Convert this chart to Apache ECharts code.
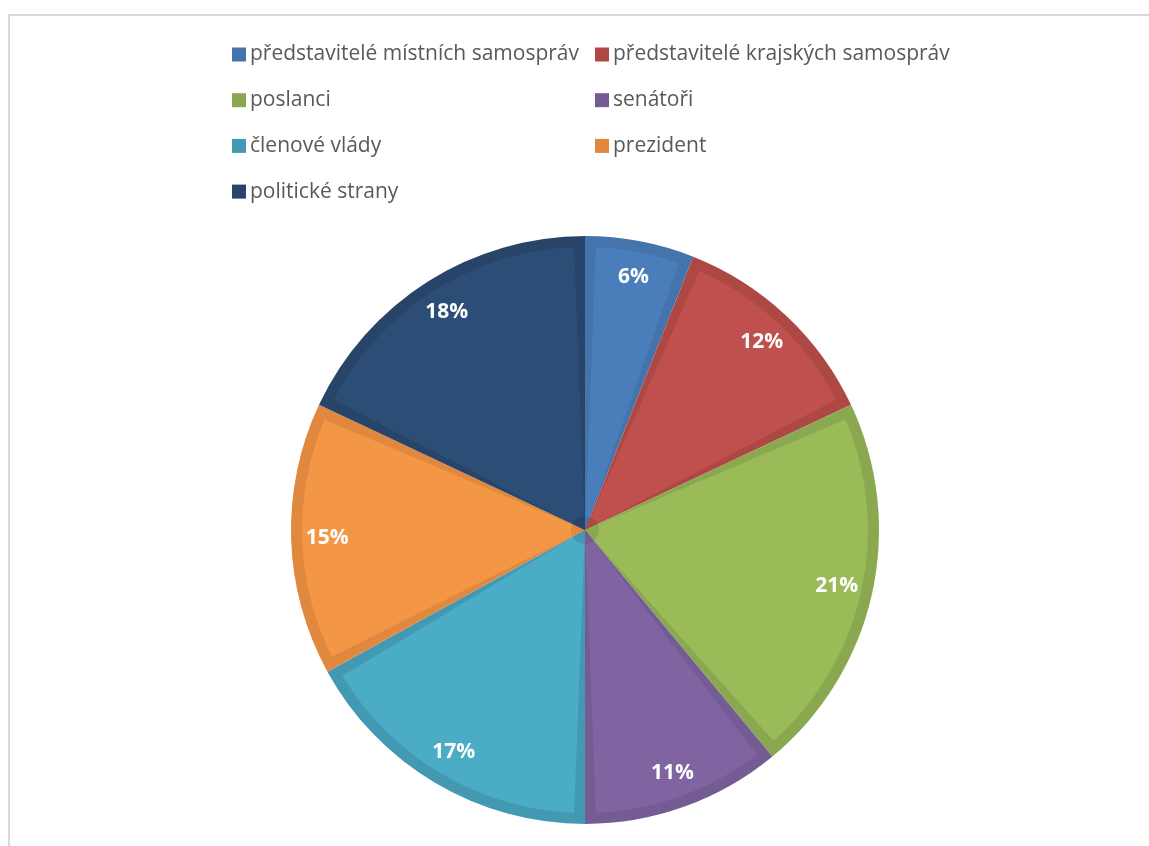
<!DOCTYPE html>
<html>
<head>
<meta charset="utf-8">
<script src="https://cdn.jsdelivr.net/npm/echarts@6/dist/echarts.min.js"></script>
<style>
  html, body { margin: 0; padding: 0; background: #ffffff; }
  #frame { position: absolute; left: 8px; top: 14px; width: 1160px; height: 860px;
           border-left: 2px solid #dadada; border-top: 2px solid #dadada; box-sizing: border-box; }
  #chart { position: absolute; left: 0; top: 0; width: 1149px; height: 846px; }
</style>
</head>
<body>
<div id="frame"></div>
<div id="chart"></div>
<script>
// ---- data ----
const categories = [
  'představitelé místních samospráv',
  'představitelé krajských samospráv',
  'poslanci',
  'senátoři',
  'členové vlády',
  'prezident',
  'politické strany'
];
const values = [6, 12, 21, 11, 17, 15, 18];
const fillColors = ['#4a7ebb', '#c0504d', '#9bbb59', '#8064a2', '#4bacc6', '#f39645', '#2c4d75'];
const edgeColors = ['#4574ac', '#ad4845', '#8aa84f', '#755b94', '#4399b2', '#df883e', '#284569'];
const legendLeftCol = [0, 2, 4, 6];
const legendRightCol = [1, 3, 5];

// ---- chart ----
const chart = echarts.init(document.getElementById('chart'), null, { renderer: 'canvas' });

function dataWith(colors) {
  return categories.map((name, i) => ({
    name: name,
    value: values[i],
    itemStyle: { color: colors[i] }
  }));
}

function legendData(idxs) {
  return idxs.map(i => ({ name: categories[i], itemStyle: { color: edgeColors[i] } }));
}

const legendCommon = {
  orient: 'vertical',
  top: 39,
  itemWidth: 14,
  itemHeight: 14,
  itemGap: 24.7,
  icon: 'rect',
  selectedMode: false,
  textStyle: { fontFamily: 'Open Sans', fontSize: 21, color: '#595959', lineHeight: 20, padding: [0, 0, 0, -1] }
};

const center = [585, 530];

chart.setOption({
  animation: false,
  legend: [
    Object.assign({ left: 227, data: legendData(legendLeftCol) }, legendCommon),
    Object.assign({ left: 590, data: legendData(legendRightCol) }, legendCommon)
  ],
  series: [
    {
      name: 'base', type: 'pie', center: center, radius: 294,
      startAngle: 90, clockwise: true, silent: true,
      label: { show: false }, labelLine: { show: false },
      data: dataWith(edgeColors)
    },
    {
      name: 'fill', type: 'pie', center: center, radius: 283,
      startAngle: 90, clockwise: true, silent: true, padAngle: 4.4,
      label: { show: false }, labelLine: { show: false },
      data: dataWith(fillColors)
    },
    {
      name: 'core', type: 'pie', center: center, radius: 14,
      startAngle: 90, clockwise: true, silent: true,
      label: { show: false }, labelLine: { show: false },
      data: dataWith(edgeColors)
    },
    {
      name: 'labels', type: 'pie', center: center, radius: [216, 294],
      startAngle: 90, clockwise: true, silent: true, avoidLabelOverlap: false,
      itemStyle: { color: 'rgba(0,0,0,0)' },
      label: {
        show: true, position: 'inside',
        formatter: p => p.value + '%',
        fontFamily: 'Open Sans', fontWeight: 'bold', fontSize: 21, color: '#ffffff'
      },
      labelLine: { show: false },
      data: categories.map((name, i) => ({ name: name, value: values[i], itemStyle: { color: 'rgba(0,0,0,0)' } }))
    }
  ]
});
</script>
</body>
</html>
